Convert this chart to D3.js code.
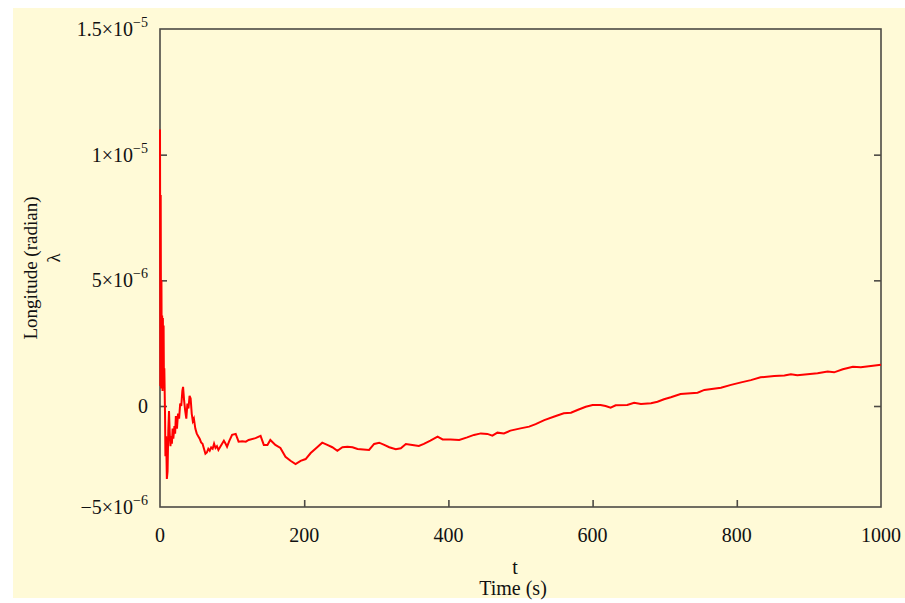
<!DOCTYPE html>
<html lang="en">
<head>
  <meta charset="UTF-8">
  <title>Longitude vs Time</title>
  <style>
    html, body {
      margin: 0;
      background: #ffffff;
    }
    svg {
      display: block;
    }
  </style>
</head>
<body>
  <script src="https://d3js.org/d3.v7.min.js"></script>
  <script>
    // time (s) and longitude (radian)
    const tValues = [
      0, 0.5, 1, 1.5, 2, 2.5, 3, 3.5, 4, 4.5, 5, 5.5, 6, 7, 7.5, 8.5, 9.5, 10.5,
      11.5, 12.5, 13.5, 14.5, 15.5, 16.5, 17.5, 18.5, 20, 21, 22, 23.5, 25, 26.5,
      28, 29.5, 31, 32, 33.5, 35, 36.5, 38, 39.5, 41, 42.5, 44, 45.5, 47, 49, 51,
      53, 55, 57, 59, 61, 63, 65, 67, 69, 71, 73, 75, 77, 79, 81, 84, 88.6, 91,
      93, 96, 100, 105, 109, 114, 119, 123, 132.5, 139.5, 144, 149, 153, 160,
      167, 174, 181, 188, 195, 202, 209, 218, 225, 232, 239, 246, 253, 260, 267,
      274, 282, 290, 297, 304, 311, 318, 327, 334, 341, 350, 359, 366, 375, 385,
      392, 403, 415, 426, 435.5, 445, 454, 461, 468, 477, 486, 500, 512, 521,
      533, 547, 560, 570, 579, 590.5, 600, 611, 618, 625, 632, 648, 657.6, 667,
      681, 690, 699, 708.5, 722, 745.6, 755, 778, 792, 806, 819.5, 833, 852,
      866, 875, 884, 898, 912, 926, 935, 947, 961, 972, 986, 1000
    ];
    const lambdaValues = [
      11.0, 0.8, 8.4, 0.7, 5.0, 0.9, 3.6, 0.6, 3.5, 0.8, 3.2, 0.7, 1.5, -0.4, -2.0, -1.2, -2.9, -2.6,
      -1.0, -0.2, -1.1, -1.6, -1.2, -1.5, -0.9, -1.3, -0.8, -1.1, -0.4, -0.9, -0.3, -0.5,
      0.1, 0.0, 0.6, 0.76, 0.2, -0.2, -0.5, 0.1, -0.1, 0.4, 0.3, -0.3, -0.6, -0.5, -0.9, -1.1,
      -1.2, -1.3, -1.45, -1.5, -1.7, -1.9, -1.85, -1.7, -1.78, -1.65, -1.7, -1.5, -1.67, -1.6, -1.75, -1.6, -1.38, -1.5,
      -1.62, -1.4, -1.15, -1.11, -1.42, -1.4, -1.42, -1.35, -1.28, -1.19, -1.55, -1.55, -1.35, -1.55,
      -1.67, -2.02, -2.18, -2.31, -2.18, -2.11, -1.87, -1.64, -1.46, -1.55, -1.64, -1.78, -1.64, -1.62, -1.64,
      -1.71, -1.73, -1.75, -1.51, -1.46, -1.55, -1.64, -1.72, -1.68, -1.51, -1.55, -1.59, -1.51, -1.38, -1.22,
      -1.33, -1.33, -1.35, -1.25, -1.15, -1.09, -1.11, -1.18, -1.06, -1.09, -0.98, -0.89, -0.82, -0.72,
      -0.56, -0.42, -0.29, -0.27, -0.16, -0.03, 0.04, 0.04, 0.0, -0.07, 0.03, 0.04, 0.13, 0.08,
      0.11, 0.17, 0.27, 0.35, 0.48, 0.53, 0.64, 0.73, 0.84, 0.94, 1.03, 1.14, 1.19,
      1.21, 1.26, 1.22, 1.26, 1.30, 1.37, 1.34, 1.46, 1.56, 1.54, 1.59, 1.64
    ].map(v => v * 1e-6);

    const xTicks = [0, 200, 400, 600, 800, 1000];
    const yTicks = [0, 5e-6, 1e-5];
    // labels shown at the y axis: value position, mantissa, exponent
    const yLabels = [
      { pos: 1.5e-5, base: "1.5\u00d710", exp: "\u22125" },
      { pos: 1e-5, base: "1\u00d710", exp: "\u22125" },
      { pos: 5e-6, base: "5\u00d710", exp: "\u22126" },
      { pos: 0, base: "0", exp: "" },
      { pos: "bottom", base: "\u22125\u00d710", exp: "\u22126" }
    ];

    const W = 905, H = 603;
    const plotL = 160, plotT = 29, plotR = 881, plotB = 507;

    const svg = d3.select("body")
      .append("svg")
      .attr("width", W)
      .attr("height", H);

    // cream panel
    svg.append("rect")
      .attr("x", 13)
      .attr("y", 8)
      .attr("width", W - 13)
      .attr("height", 590)
      .attr("fill", "#fffad7");

    const x = d3.scaleLinear().domain([0, 1000]).range([plotL, plotR]);
    // 0 sits at y=406 and 1.5e-5 at the top edge
    const k = (406 - plotT) / 1.5e-5;
    const yMin = 1.5e-5 - (plotB - plotT) / k;
    const y = d3.scaleLinear().domain([yMin, 1.5e-5]).range([plotB, plotT]);

    const axisColor = "#4d4a45";

    // frame
    svg.append("rect")
      .attr("x", plotL)
      .attr("y", plotT)
      .attr("width", plotR - plotL)
      .attr("height", plotB - plotT)
      .attr("fill", "none")
      .attr("stroke", axisColor)
      .attr("stroke-width", 1.6);

    // ticks (inward)
    svg.append("g")
      .attr("transform", `translate(0,${plotB})`)
      .call(d3.axisBottom(x).tickValues(xTicks.slice(1, -1)).tickSize(-7).tickSizeOuter(0).tickFormat(""))
      .call(g => g.select(".domain").remove())
      .selectAll("line").attr("stroke", axisColor).attr("stroke-width", 1.6);

    svg.append("g")
      .attr("transform", `translate(${plotL},0)`)
      .call(d3.axisLeft(y).tickValues(yTicks).tickSize(-7).tickSizeOuter(0).tickFormat(""))
      .call(g => g.select(".domain").remove())
      .selectAll("line").attr("stroke", axisColor).attr("stroke-width", 1.6);

    svg.append("g")
      .attr("transform", `translate(${plotR},0)`)
      .call(d3.axisRight(y).tickValues(yTicks).tickSize(-7).tickSizeOuter(0).tickFormat(""))
      .call(g => g.select(".domain").remove())
      .selectAll("line").attr("stroke", axisColor).attr("stroke-width", 1.6);

    const font = "'Liberation Serif', 'Times New Roman', serif";

    // x tick labels
    svg.append("g")
      .selectAll("text")
      .data(xTicks)
      .join("text")
      .attr("x", d => x(d))
      .attr("y", 542)
      .attr("text-anchor", "middle")
      .attr("font-family", font)
      .attr("font-size", 20)
      .attr("fill", "#111")
      .text(d => d);

    // y tick labels with superscripts
    const yl = svg.append("g")
      .selectAll("text")
      .data(yLabels)
      .join("text")
      .attr("x", 148)
      .attr("y", d => (d.pos === "bottom" ? plotB : y(d.pos)) + 7)
      .attr("text-anchor", "end")
      .attr("font-family", font)
      .attr("font-size", 20)
      .attr("fill", "#111");
    yl.append("tspan").text(d => d.base);
    yl.append("tspan")
      .attr("dy", -9)
      .attr("font-size", 14)
      .text(d => d.exp);

    // axis titles
    svg.append("text")
      .attr("x", 515)
      .attr("y", 574)
      .attr("text-anchor", "middle")
      .attr("font-family", font)
      .attr("font-size", 20)
      .attr("fill", "#111")
      .text("t");
    svg.append("text")
      .attr("x", 513)
      .attr("y", 595)
      .attr("text-anchor", "middle")
      .attr("font-family", font)
      .attr("font-size", 20)
      .attr("fill", "#111")
      .text("Time (s)");

    svg.append("text")
      .attr("transform", "translate(37,268) rotate(-90)")
      .attr("text-anchor", "middle")
      .attr("font-family", font)
      .attr("font-size", 19)
      .attr("fill", "#111")
      .text("Longitude (radian)");
    svg.append("text")
      .attr("transform", "translate(60,258) rotate(-90)")
      .attr("text-anchor", "middle")
      .attr("font-family", font)
      .attr("font-size", 19)
      .attr("fill", "#111")
      .text("\u03bb");

    // data line
    const data = tValues.map((t, i) => ({ t: t, v: lambdaValues[i] }));
    const line = d3.line()
      .x(d => x(d.t))
      .y(d => y(d.v));

    svg.append("path")
      .datum(data)
      .attr("d", line)
      .attr("fill", "none")
      .attr("stroke", "#ff0000")
      .attr("stroke-width", 2);
  </script>
</body>
</html>
